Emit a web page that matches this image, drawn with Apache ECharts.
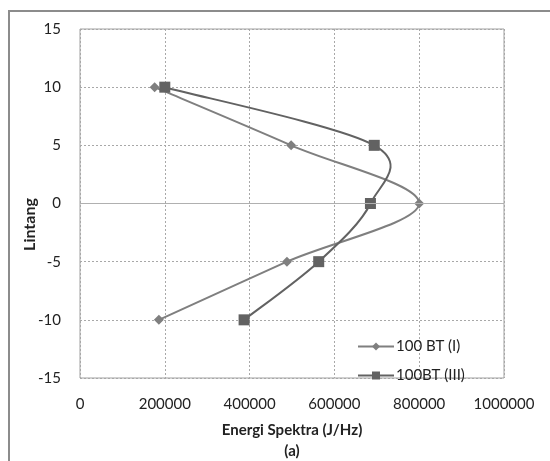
<!DOCTYPE html>
<html>
<head>
<meta charset="utf-8">
<script src="https://cdn.jsdelivr.net/npm/echarts@6/dist/echarts.min.js"></script>
<style>
  html, body { margin: 0; padding: 0; background: #ffffff; }
  #chart { width: 550px; height: 461px; }
</style>
</head>
<body>
<div id="chart"></div>
<script>
// latitude levels (y) and spectral energy (x)
const lintang = [10, 5, 0, -5, -10]
const energiI = [176000, 498000, 800000, 488000, 186000]
const energiIII = [200000, 694000, 685000, 563000, 387000]
const seriesNames = ['100 BT (I)', '100BT (III)']

const colorI = '#7f7f7f'
const colorIII = '#626262'
const fontFamily = 'Lato, "Open Sans", sans-serif'

const pointsI = lintang.map((y, i) => [energiI[i], y])
const pointsIII = lintang.map((y, i) => [energiIII[i], y])

// excel-like smoothed line (catmull-rom), drawn in pixel space via api.coord
function smoothCurve(points, color) {
  return function (params, api) {
    if (params.dataIndex !== 0) return null
    const p = points.map(d => api.coord(d))
    let path = 'M' + p[0][0] + ' ' + p[0][1]
    for (let i = 0; i < p.length - 1; i++) {
      const p0 = p[i - 1] || p[i]
      const p1 = p[i]
      const p2 = p[i + 1]
      const p3 = p[i + 2] || p[i + 1]
      const c1x = p1[0] + (p2[0] - p0[0]) / 6
      const c1y = p1[1] + (p2[1] - p0[1]) / 6
      const c2x = p2[0] - (p3[0] - p1[0]) / 6
      const c2y = p2[1] - (p3[1] - p1[1]) / 6
      path += ' C' + c1x + ' ' + c1y + ' ' + c2x + ' ' + c2y + ' ' + p2[0] + ' ' + p2[1]
    }
    return {
      type: 'path',
      shape: { pathData: path },
      style: { stroke: color, lineWidth: 2, fill: 'none' }
    }
  }
}

const chart = echarts.init(document.getElementById('chart'))

chart.setOption({
  animation: false,
  backgroundColor: '#ffffff',
  graphic: [{
    type: 'polyline',
    shape: { points: [[9, 461], [9, 11], [550, 11]] },
    style: { stroke: '#8c8c8c', lineWidth: 2, fill: null }
  }],
  grid: {
    left: 80,
    right: 46,
    top: 29,
    bottom: 83,
    outerBoundsMode: 'none',
    containLabel: false,
    show: true,
    borderColor: '#a0a0a0',
    borderWidth: 1
  },
  legend: {
    orient: 'vertical',
    left: 352,
    top: 334,
    itemWidth: 36,
    itemHeight: 10,
    itemGap: 14,
    textStyle: { fontFamily, fontSize: 15, color: '#222', padding: [0, 0, 0, -3] },
    data: [
      { name: seriesNames[0], lineStyle: { color: colorI, width: 2, opacity: 1 } },
      { name: seriesNames[1], lineStyle: { color: colorIII, width: 2, opacity: 1 } }
    ]
  },
  xAxis: {
    type: 'value',
    min: 0,
    max: 1000000,
    interval: 200000,
    name: 'Energi Spektra (J/Hz)\n(a)',
    nameLocation: 'middle',
    nameGap: 42,
    nameMoveOverlap: false,
    nameTextStyle: { fontFamily, fontSize: 15, fontWeight: 'bold', color: '#222', lineHeight: 21, verticalAlign: 'top' },
    axisLine: { show: false },
    axisTick: { show: false },
    axisLabel: { fontFamily, fontSize: 15, color: '#222', margin: 19, formatter: v => String(v) },
    splitLine: { lineStyle: { color: '#a8a8a8', type: [2, 2], width: 1 } }
  },
  yAxis: {
    type: 'value',
    min: -15,
    max: 15,
    interval: 5,
    name: 'Lintang',
    nameLocation: 'middle',
    nameGap: 42,
    nameMoveOverlap: false,
    nameTextStyle: { fontFamily, fontSize: 16, fontWeight: 'bold', color: '#222', padding: [0, 42, 0, 0] },
    axisLine: { show: false },
    axisTick: { show: false },
    axisLabel: { fontFamily, fontSize: 15, color: '#222', margin: 19 },
    splitLine: { lineStyle: { color: '#a8a8a8', type: [2, 2], width: 1 } }
  },
  series: [
    {
      type: 'custom',
      data: pointsI,
      renderItem: smoothCurve(pointsI, colorI),
      silent: true,
      z: 2
    },
    {
      type: 'custom',
      data: pointsIII,
      renderItem: smoothCurve(pointsIII, colorIII),
      silent: true,
      z: 2
    },
    {
      name: seriesNames[0],
      type: 'line',
      data: pointsI,
      symbol: 'diamond',
      symbolSize: 10,
      lineStyle: { color: colorI, width: 2, opacity: 0 },
      itemStyle: { color: colorI },
      markLine: {
        silent: true,
        symbol: 'none',
        label: { show: false },
        lineStyle: { color: '#b0b0b0', type: 'solid', width: 1 },
        data: [{ yAxis: 0 }]
      },
      z: 3
    },
    {
      name: seriesNames[1],
      type: 'line',
      data: pointsIII,
      symbol: 'rect',
      symbolSize: 11,
      lineStyle: { color: colorIII, width: 2, opacity: 0 },
      itemStyle: { color: colorIII },
      z: 4
    }
  ]
})

window.addEventListener('resize', () => chart.resize())
</script>
</body>
</html>
